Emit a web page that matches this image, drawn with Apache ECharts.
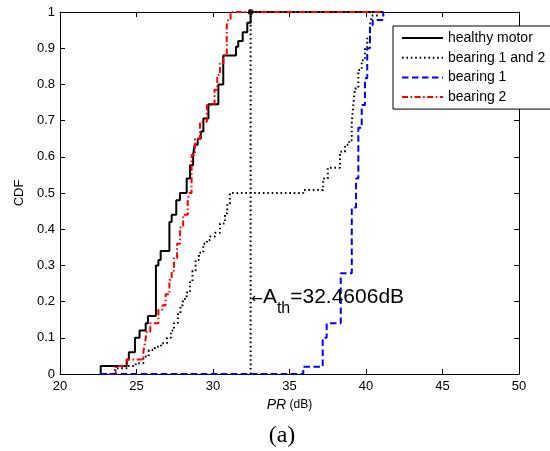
<!DOCTYPE html>
<html><head><meta charset="utf-8">
<script src="https://cdn.jsdelivr.net/npm/echarts@6/dist/echarts.min.js"></script>
<style>html,body{margin:0;padding:0;background:#fff}#c{width:550px;height:451px}</style>
</head><body><div id="c"></div>
<script>
const seriesNames = ['healthy motor', 'bearing 1 and 2', 'bearing 1', 'bearing 2'];

const healthyX = [22.66, 22.66, 24.36, 24.5, 24.9, 25.2, 25.6, 25.75, 26.27, 26.43, 26.58, 27.15, 27.3, 27.6, 27.84, 28.28, 28.5, 28.7, 28.8, 29.0, 29.2, 29.37, 29.7, 30.35, 30.67, 31.5, 31.65, 31.94, 32.24, 32.46, 41.13];
const healthyY = [0, 0.022, 0.04, 0.06, 0.10, 0.12, 0.14, 0.16, 0.30, 0.315, 0.34, 0.42, 0.44, 0.48, 0.50, 0.54, 0.577, 0.605, 0.633, 0.65, 0.67, 0.706, 0.745, 0.80, 0.88, 0.904, 0.92, 0.944, 0.97, 1, 1];

const both12X = [22.66, 23.6, 24.47, 24.95, 25.45, 25.8, 26.2, 26.6, 27.0, 27.25, 27.45, 27.7, 27.87, 28.03, 28.28, 28.5, 28.66, 28.86, 29.08, 29.37, 29.6, 29.8, 30.13, 30.46, 30.78, 30.93, 31.1, 35.9, 37.2, 37.5, 38.3, 38.63, 38.9, 39.07, 39.17, 39.28, 39.5, 39.72, 39.93, 40.08, 40.26, 40.37, 40.8, 41.13];
const both12Y = [0, 0.016, 0.022, 0.03, 0.048, 0.066, 0.075, 0.085, 0.10, 0.12, 0.14, 0.165, 0.19, 0.207, 0.225, 0.255, 0.285, 0.315, 0.335, 0.36, 0.37, 0.38, 0.39, 0.416, 0.444, 0.47, 0.50, 0.508, 0.54, 0.57, 0.614, 0.633, 0.646, 0.697, 0.743, 0.789, 0.84, 0.867, 0.9, 0.927, 0.964, 0.99, 1, 1];

const bearing1X = [22.66, 35.9, 37.17, 37.43, 38.35, 39.07, 39.35, 39.5, 39.72, 39.93, 40.08, 40.26, 40.44, 41.13];
const bearing1Y = [0, 0.02, 0.10, 0.14, 0.278, 0.46, 0.54, 0.68, 0.743, 0.817, 0.9, 0.964, 0.978, 1];

const bearing2X = [22.66, 23.64, 24.36, 25.45, 25.55, 25.67, 25.9, 26.43, 26.7, 26.9, 27.15, 27.3, 27.45, 27.65, 27.85, 28.05, 28.35, 28.45, 28.6, 28.82, 29.15, 29.6, 30.1, 30.28, 30.45, 30.68, 30.9, 31.0, 31.15, 41.13];
const bearing2Y = [0, 0.022, 0.04, 0.062, 0.085, 0.117, 0.14, 0.178, 0.19, 0.22, 0.26, 0.285, 0.32, 0.36, 0.405, 0.44, 0.48, 0.50, 0.605, 0.65, 0.697, 0.743, 0.785, 0.826, 0.858, 0.88, 0.964, 0.98, 1, 1];

const thresholdX = 32.4606;
const thresholdLabel = '=32.4606dB';
const annotY = 0.2127;
const xMin = 20, xMax = 50, xStep = 5;
const yMin = 0, yMax = 1, yStep = 0.1;

const pairs = (xs, ys) => xs.map((x, i) => [x, ys[i]]);
const FONT = '"Liberation Sans", Arial, Helvetica, sans-serif';

const chart = echarts.init(document.getElementById('c'), null, { renderer: 'canvas' });

const axisLine = { show: true, onZero: false, lineStyle: { color: '#000', width: 1 } };
const tick = { show: true, inside: true, length: 5, lineStyle: { color: '#000', width: 1 } };

const option = {
  animation: false,
  backgroundColor: '#fff',
  grid: { left: 60, right: 31, top: 12, bottom: 77 },
  xAxis: [
    { type: 'value', min: xMin, max: xMax, interval: xStep, position: 'bottom',
      axisLine, axisTick: tick, splitLine: { show: false },
      axisLabel: { color: '#000', fontSize: 13, fontFamily: FONT, margin: 6 },
      name: '{i|PR} {n|(dB)}', nameLocation: 'middle', nameGap: 22,
      nameTextStyle: { rich: {
        i: { fontStyle: 'italic', fontSize: 14, fontFamily: FONT, color: '#000' },
        n: { fontSize: 12, fontFamily: FONT, color: '#000' } } } },
    { type: 'value', min: xMin, max: xMax, interval: xStep, position: 'top',
      axisLine, axisTick: tick, splitLine: { show: false }, axisLabel: { show: false } }
  ],
  yAxis: [
    { type: 'value', min: yMin, max: yMax, interval: yStep, position: 'left',
      axisLine, axisTick: tick, splitLine: { show: false },
      axisLabel: { color: '#000', fontSize: 13, fontFamily: FONT, margin: 5 },
      name: 'CDF', nameLocation: 'middle', nameGap: 32,
      nameTextStyle: { color: '#000', fontSize: 13, fontFamily: FONT } },
    { type: 'value', min: yMin, max: yMax, interval: yStep, position: 'right',
      axisLine, axisTick: tick, splitLine: { show: false }, axisLabel: { show: false } }
  ],
  legend: {
    data: seriesNames, orient: 'vertical', left: 393, top: 26,
    itemWidth: 41, itemHeight: 14, itemGap: 5.7, padding: [5, 8, 5, 8],
    borderColor: '#000', borderWidth: 1, backgroundColor: '#fff',
    itemStyle: { opacity: 0 },
    textStyle: { fontSize: 14, fontFamily: FONT, color: '#000' }, z: 10
  },
  series: [
    { name: seriesNames[0], type: 'line', step: 'end', symbol: 'none', data: pairs(healthyX, healthyY),
      lineStyle: { color: '#000', width: 2 }, itemStyle: { color: '#000' }, z: 4 },
    { name: seriesNames[1], type: 'line', step: 'end', symbol: 'none', data: pairs(both12X, both12Y),
      lineStyle: { color: '#000', width: 2, type: [1.6, 2.8] }, itemStyle: { color: '#000' }, z: 3 },
    { name: seriesNames[2], type: 'line', step: 'end', symbol: 'none', data: pairs(bearing1X, bearing1Y),
      lineStyle: { color: '#0000ff', width: 2, type: [6.5, 3.5] }, itemStyle: { color: '#0000ff' }, z: 6 },
    { name: seriesNames[3], type: 'line', step: 'end', symbol: 'none', data: pairs(bearing2X, bearing2Y),
      lineStyle: { color: '#ff0000', width: 2, type: [6, 2.5, 1.6, 2.5] }, itemStyle: { color: '#ff0000' }, z: 5 },
    { name: 'threshold', type: 'line', symbol: 'none', data: [[thresholdX, yMin], [thresholdX, yMax]],
      lineStyle: { color: '#000', width: 2, type: [1.6, 2.8] }, z: 7, silent: true },
    { name: 'threshold point', type: 'scatter', data: [[thresholdX, yMax]], symbolSize: 6,
      itemStyle: { color: '#000' }, z: 8, silent: true },
    { name: 'annotation', type: 'scatter', data: [[thresholdX, annotY]], symbolSize: 1,
      itemStyle: { color: '#000' }, z: 9, silent: true,
      label: { show: true, position: 'right', distance: 0, color: '#000', opacity: 1,
        formatter: '{r|\u2190}{a|A}{s|th}{a|' + thresholdLabel + '}',
        rich: {
          r: { fontSize: 14, lineHeight: 40, verticalAlign: 'middle', fontFamily: '"DejaVu Sans", sans-serif', color: '#000', padding: [4, 0, 0, 0] },
          a: { fontSize: 21, lineHeight: 40, verticalAlign: 'middle', fontFamily: FONT, color: '#000' },
          s: { fontSize: 16, lineHeight: 16, verticalAlign: 'bottom', fontFamily: FONT, color: '#000' }
        } } }
  ],
  graphic: [
    { type: 'text', silent: true,
      style: { text: '(a)', x: 282, y: 436, font: '24px "Liberation Serif", "Times New Roman", serif',
        textAlign: 'center', textVerticalAlign: 'middle', fill: '#000' } }
  ]
};
chart.setOption(option);
</script>
</body></html>
